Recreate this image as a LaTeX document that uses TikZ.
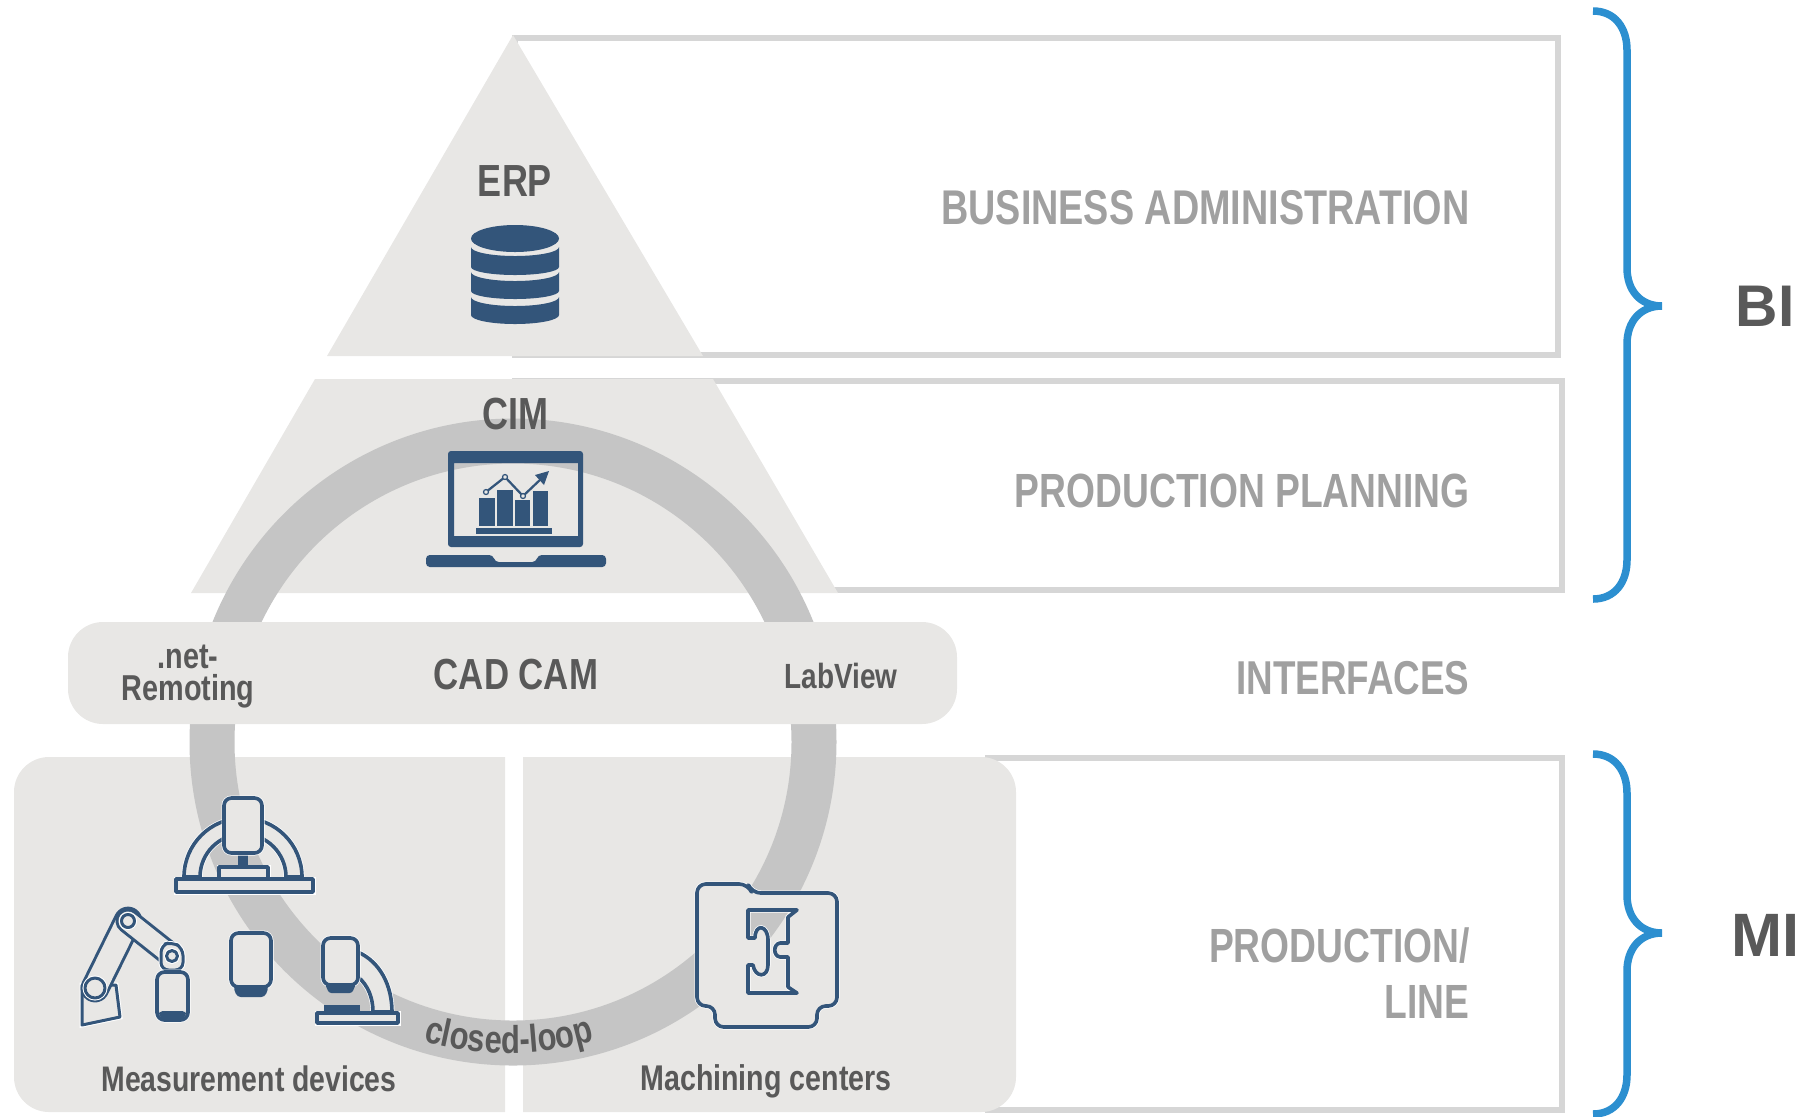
\documentclass[tikz,border=0pt]{standalone}
\usepackage{fontspec}
\usetikzlibrary{decorations.text}
\newfontfamily\condfont[FakeStretch=0.8]{Liberation Sans}
\newfontfamily\softfont[FakeStretch=0.775]{Liberation Sans}
\newfontfamily\widefont{Liberation Sans}
\definecolor{panelgray}{HTML}{E8E7E5}
\definecolor{ringgray}{HTML}{C5C5C5}
\definecolor{framegray}{HTML}{D6D6D6}
\definecolor{darktext}{HTML}{595959}
\definecolor{softtext}{HTML}{A0A0A0}
\definecolor{iconblue}{HTML}{33557A}
\definecolor{braceblue}{HTML}{2C8FD0}
\tikzset{
  frame/.style={draw=framegray,line width=2.4pt},
  panel/.style={fill=panelgray},
  ico/.style={draw=iconblue,fill=panelgray,line width=1.45pt,line join=round,preaction={draw=white,line width=2pt}},
  solid icon/.style={fill=iconblue},
  brace/.style={draw=braceblue,line width=3pt},
  arm/.style={draw=iconblue,line cap=round,line width=#1,postaction={draw=panelgray,line width=#1-2.4pt}},
  softlabel/.style={text=softtext,anchor=east,inner sep=0pt,font=\softfont\bfseries\fontsize{#1}{22}\selectfont},
  darklabel/.style={text=darktext,inner sep=0pt,font=\condfont\bfseries\fontsize{#1}{#1}\selectfont},
}
\begin{document}
\begin{tikzpicture}[x=0.4pt,y=0.4pt,yscale=-1,xscale=1]
\useasboundingbox (0,0) rectangle (1800,1116);

%Frames
\draw [frame] (515,38) rectangle (1558,355) ;
\draw [frame] (515,381) rectangle (1562,590) ;
\draw [frame] (985,758) -- (1562,758) -- (1562,1110) -- (985,1110) ;

%Shape: Triangle and trapezoid
\fill [panel] (513,35) -- (703,356) -- (327,356) -- cycle ;
\fill [panel] (315,379) -- (713,379) -- (838,593) -- (191,593) -- cycle ;

%Shape: Rounded panels
\fill [panel] (505,757) [rounded corners=14pt] -- (14,757) -- (14,1112) [sharp corners] -- (505,1112) -- cycle ;
\fill [panel] (523,757) [rounded corners=14pt] -- (1016,757) -- (1016,1112) [sharp corners] -- (523,1112) -- cycle ;

%Shape: Ring
\draw [draw=ringgray,line width=18pt] (513,742) circle [radius=301] ;

%Shape: Interfaces bar
\fill [panel,rounded corners=14pt] (68,622) rectangle (957,724) ;

%Database icon
\fill [solid icon] (515,238.5) ellipse [x radius=44,y radius=13.5] ;
\fill [solid icon] (471,247) arc [start angle=180,end angle=0,x radius=44,y radius=9] -- (559,267) arc [start angle=0,end angle=180,x radius=44,y radius=8] -- cycle ;
\fill [solid icon] (471,272) arc [start angle=180,end angle=0,x radius=44,y radius=9] -- (559,291) arc [start angle=0,end angle=180,x radius=44,y radius=8] -- cycle ;
\fill [solid icon] (471,297) arc [start angle=180,end angle=0,x radius=44,y radius=9] -- (559,315) arc [start angle=0,end angle=180,x radius=44,y radius=9] -- cycle ;

%Laptop icon
\fill [solid icon,even odd rule] [rounded corners=1.2pt] (448,451) rectangle (583,547) [sharp corners] (454,463) rectangle (578,536) ;
\fill [solid icon,rounded corners=1.5pt] (426,555) -- (493,555) -- (495,562) -- (536,562) -- (538,555) -- (606,555) -- (606,567) -- (426,567) -- cycle ;
\fill [solid icon] (476,528) rectangle (552,534) ;
\fill [solid icon] (479,498) rectangle (495,526) ;
\fill [solid icon] (497,490) rectangle (513,526) ;
\fill [solid icon] (515,500) rectangle (530,526) ;
\fill [solid icon] (533,491) rectangle (548,526) ;
\draw [iconblue,line width=0.9pt] (486,492) -- (505,477) -- (523,496) -- (542,478) ;
\fill [solid icon] (549,471) -- (544,485) -- (535,475) -- cycle ;
\draw [iconblue,fill=panelgray,line width=0.5pt] (486,492) circle [radius=2.5] ;
\draw [iconblue,fill=panelgray,line width=0.5pt] (505,477) circle [radius=2.5] ;
\draw [iconblue,fill=panelgray,line width=0.5pt] (523,496) circle [radius=2.5] ;

%Top measuring machine
\draw [ico] (184,877) arc [start angle=180,end angle=360,radius=59] -- (286,877) arc [start angle=0,end angle=-180,radius=43] -- cycle ;
\fill [solid icon] (238,850) rectangle (248,868) ;
\draw [ico] (219,867) rectangle (268,879) ;
\draw [ico] (176,879) rectangle (313,892) ;
\draw [ico,rounded corners=3pt] (224,798) rectangle (262,853) ;

%Robot arm
\draw [ico,line width=1.2pt] (82,985) -- (82,1025) -- (120,1017) -- (116,985) -- cycle ;
\draw [arm=11.5pt] (95,988) -- (128,921) ;
\draw [arm=10pt] (128,921) -- (172,956) ;
\draw [ico,line width=1.2pt,rounded corners=3pt] (161,945) -- (172,942) -- (183,948) -- (183,970) -- (161,970) -- cycle ;
\draw [ico,line width=1.2pt] (95,988) circle [radius=10] ;
\draw [ico,line width=1.2pt] (128,921) circle [radius=6.5] ;
\draw [ico,line width=1.2pt] (172,956) circle [radius=5.5] ;
\draw [ico,rounded corners=3pt] (157,972) rectangle (188,1020) ;
\fill [solid icon,rounded corners=1.5pt] (159,1011) -- (186,1011) -- (186,1015) -- (182,1021) -- (163,1021) -- (159,1015) -- cycle ;

%Middle camera
\draw [ico,rounded corners=3pt] (231,933) rectangle (271,987) ;
\fill [solid icon,rounded corners=1.5pt] (233,986) -- (269,986) -- (265,997) -- (237,997) -- cycle ;

%Right microscope
\draw [ico] (358,952) .. controls (380,962) and (392,985) .. (392,1012) -- (373,1012) .. controls (373,998) and (368,985) .. (358,977) -- cycle ;
\fill [solid icon] (324,1005) rectangle (360,1013) ;
\draw [ico] (317,1013) rectangle (398,1023) ;
\draw [ico,rounded corners=3pt] (323,938) rectangle (358,985) ;
\fill [solid icon,rounded corners=1pt] (325,984) -- (356,984) -- (352,993) -- (329,993) -- cycle ;

%Machining center
\draw [ico,even odd rule] [rounded corners=3.5pt] (697,884) -- (748,884) -- (752,893) -- (837,893) -- (837,1006) -- (817,1006) -- (817,1027) -- (715,1027) -- (715,1006) -- (697,1006) -- cycle
  [sharp corners] (748,910) -- (797,910) -- (788,917) -- (788,943) -- (780,943) .. controls (773,944) and (773,956) .. (780,957) -- (788,957) -- (788,987) -- (797,993) -- (748,993) -- (748,965) -- (753,965) .. controls (755,978) and (768,978) .. (768,965) -- (768,940) .. controls (768,925) and (755,923) .. (755,938) -- (748,938) -- cycle ;

%Right braces
\draw [brace] (1593,11) .. controls (1615,11) and (1627,28) .. (1627,50) -- (1627,268) .. controls (1627,290) and (1640,306) .. (1662,306) .. controls (1640,306) and (1627,322) .. (1627,344) -- (1627,560) .. controls (1627,582) and (1615,599) .. (1593,599) ;
\draw [brace] (1593,754) .. controls (1615,754) and (1627,771) .. (1627,793) -- (1627,895) .. controls (1627,917) and (1640,933) .. (1662,933) .. controls (1640,933) and (1627,949) .. (1627,971) -- (1627,1075) .. controls (1627,1097) and (1615,1114) .. (1593,1114) ;

% Text Node
\node [darklabel=18] (erp) at (515,181) {ERP};
\node [darklabel=18] (cim) at (515,414) {CIM};
\node [darklabel=17.4] (cadcam) at (516,675) {CAD CAM};
\node [darklabel=14.4,align=center] (remoting) at (188,677) {.net-\\[-1.6pt]Remoting};
\node [darklabel=14] (labview) at (841,676) {LabView};
\node [darklabel=14.2] (measure) at (249,1079) {Measurement devices};
\node [darklabel=14.3] (machining) at (766,1081) {Machining centers};
\node [softlabel=19.5] (business) at (1470,208) {BUSINESS ADMINISTRATION};
\node [softlabel=19.2] (planning) at (1470,491) {PRODUCTION PLANNING};
\node [softlabel=19] (interfaces) at (1470,678) {INTERFACES};
\node [softlabel=19.2] (production) at (1470,946) {PRODUCTION/};
\node [softlabel=19.2] (line) at (1470,1002) {LINE};
\node [text=darktext,inner sep=0pt,font=\widefont\bfseries\fontsize{23.5}{24}\selectfont] (bi) at (1765,306) {BI};
\node [text=darktext,inner sep=0pt,font=\widefont\bfseries\fontsize{24.5}{25}\selectfont] (mi) at (1765,935) {MI};

% Curved text on the ring
\begin{scope}[yscale=-1]
\path [decorate,decoration={text along path,text align=center,text={|\condfont\bfseries\fontsize{15.5}{16}\selectfont\color{darktext}|closed-loop}}] (509,-742) ++(253:311) arc [start angle=253,end angle=287,radius=311] ;
\end{scope}

\end{tikzpicture}
\end{document}
